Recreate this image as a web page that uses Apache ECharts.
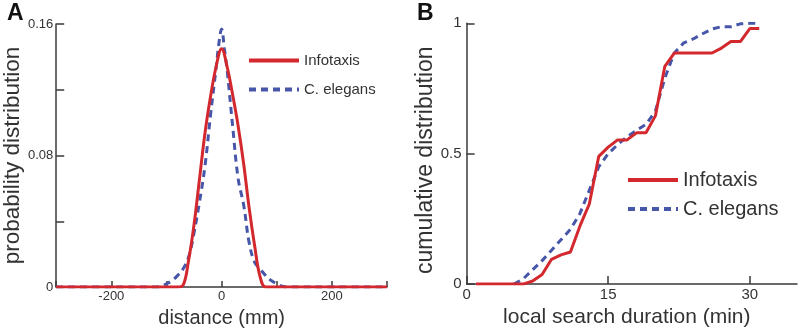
<!DOCTYPE html>
<html>
<head>
<meta charset="utf-8">
<script src="https://cdn.jsdelivr.net/npm/echarts@6/dist/echarts.min.js"></script>
<style>
html,body{margin:0;padding:0;background:#fff;}
#c{width:798px;height:333px;}
</style>
</head>
<body>
<div id="c"></div>
<script>
// Panel A: probability distribution vs distance (mm)
var distInfotaxis = [-300,-200,-100,-80,-70,-60,-50,-40,-30,-20,-10,0,10,20,30,40,50,60,70,80,100,200,300];
var probInfotaxis = [0,0,0,0,0.001,0.016,0.038,0.066,0.094,0.116,0.134,0.145,0.134,0.117,0.098,0.075,0.048,0.025,0.006,0,0,0,0];
var distElegans = [-300,-200,-120,-110,-100,-90,-80,-70,-60,-50,-40,-30,-20,-10,-5,0,5,10,20,30,40,50,60,70,80,90,100,110,120,200,300];
var probElegans = [0,0,0,0.0005,0.002,0.004,0.007,0.011,0.018,0.033,0.052,0.074,0.105,0.133,0.148,0.157,0.145,0.132,0.098,0.066,0.05,0.027,0.015,0.011,0.007,0.004,0.002,0.0005,0,0,0];
var distTickLabels = [-200, 0, 200];
var probTickLabels = [0, 0.08, 0.16];

// Panel B: cumulative distribution vs local search duration (min)
var durInfotaxis = [1,2,3,4,5,6,7,8,9,10,11,12,13,14,15,16,17,18,19,20,21,22,23,24,25,26,27,28,29,30,31];
var cumInfotaxis = [0,0,0,0,0,0,0.012,0.037,0.095,0.112,0.123,0.222,0.307,0.49,0.525,0.553,0.553,0.58,0.58,0.645,0.835,0.886,0.886,0.886,0.886,0.886,0.905,0.93,0.93,0.98,0.98];
var durElegans = [5,6,7,8,9,10,11,12,13,14,15,16,17,18,19,20,21,22,23,24,25,26,27,28,29,30,31];
var cumElegans = [0,0.02,0.055,0.09,0.13,0.17,0.21,0.27,0.36,0.45,0.5,0.535,0.565,0.59,0.612,0.663,0.79,0.886,0.925,0.94,0.96,0.978,0.987,0.987,0.998,1.0,1.0];
var durTickLabels = [0, 15, 30];
var cumTickLabels = [0, 0.5, 1];

var seriesNames = ['Infotaxis', 'C. elegans'];
var RED = '#d3282e', BLUE = '#4756a8', AX = '#3a3a3a', TXT = '#333';
var FONT = 'Liberation Sans, Arial, Helvetica, sans-serif';

function pairs(xs, ys){ return xs.map(function(x,i){ return [x, ys[i]]; }); }
function onlyLabels(list){
  return function(v){
    for (var i=0;i<list.length;i++){ if (Math.abs(v-list[i])<1e-9) return String(list[i]); }
    return '';
  };
}

var chart = echarts.init(document.getElementById('c'), null, {renderer:'canvas'});
var axisLine = {show:true, onZero:false, lineStyle:{color:AX, width:1.5}};
function legendItem(name, left, top, fs, ih){
  return {data:[name], left:left, top:top, itemWidth:50, itemHeight:ih, itemGap:10,
    itemStyle:{opacity:0}, lineStyle:{width:4},
    textStyle:{fontSize:fs, color:TXT, fontFamily:FONT}, selectedMode:false};
}
var option = {
  animation:false,
  backgroundColor:'#fff',
  textStyle:{fontFamily:FONT},
  title:[
    {text:'A', left:2, top:-3, textStyle:{fontSize:23, fontWeight:'bold', color:'#111', fontFamily:FONT}},
    {text:'B', left:412, top:-3, textStyle:{fontSize:23, fontWeight:'bold', color:'#111', fontFamily:FONT}}
  ],
  grid:[
    {left:50, top:24, width:337, height:267},
    {left:466.6, top:23.3, width:330.4, height:262.4}
  ],
  legend:[
    legendItem(seriesNames[0], 242, 48, 15, 16),
    legendItem(seriesNames[1], 242, 77, 15, 16),
    legendItem(seriesNames[0], 621, 165, 20, 20),
    legendItem(seriesNames[1], 621, 194, 20, 20)
  ],
  xAxis:[
    {type:'value', gridIndex:0, min:-300, max:300, interval:100,
     axisLine:axisLine, axisTick:{show:true, inside:true, length:6, lineStyle:{color:AX, width:1.5}},
     axisLabel:{formatter:onlyLabels(distTickLabels), fontSize:13, color:TXT, margin:3, showMinLabel:true, showMaxLabel:true},
     splitLine:{show:false},
     name:'distance (mm)', nameLocation:'middle', nameGap:19,
     nameTextStyle:{fontSize:20, color:TXT, fontFamily:FONT}},
    {type:'value', gridIndex:1, min:0, max:35, interval:15,
     axisLine:axisLine, axisTick:{show:true, inside:true, length:8, lineStyle:{color:AX, width:1.5}},
     axisLabel:{formatter:onlyLabels(durTickLabels), fontSize:15, color:TXT, margin:3, showMaxLabel:false},
     splitLine:{show:false},
     name:'local search duration (min)', nameLocation:'middle', nameGap:20,
     nameTextStyle:{fontSize:21, color:TXT, fontFamily:FONT, padding:[0,10,0,0]}}
  ],
  yAxis:[
    {type:'value', gridIndex:0, min:0, max:0.16, interval:0.04,
     axisLine:axisLine, axisTick:{show:true, inside:true, length:8, lineStyle:{color:AX, width:1.5}},
     axisLabel:{formatter:onlyLabels(probTickLabels), fontSize:13, color:TXT, margin:3},
     splitLine:{show:false},
     name:'probability distribution', nameLocation:'middle', nameGap:21,
     nameTextStyle:{fontSize:22.5, color:TXT, fontFamily:FONT}},
    {type:'value', gridIndex:1, min:0, max:1, interval:0.5,
     axisLine:axisLine, axisTick:{show:true, inside:true, length:8, lineStyle:{color:AX, width:1.5}},
     axisLabel:{formatter:onlyLabels(cumTickLabels), fontSize:15, color:TXT, margin:5},
     splitLine:{show:false},
     name:'cumulative distribution', nameLocation:'middle', nameGap:22,
     nameTextStyle:{fontSize:23, color:TXT, fontFamily:FONT, padding:[0,13,0,0]}}
  ],
  series:[
    {name:seriesNames[1], type:'line', xAxisIndex:0, yAxisIndex:0, data:pairs(distElegans, probElegans),
     showSymbol:false, symbol:'none', smooth:0.4,
     lineStyle:{color:BLUE, width:3, type:[7,5]}, itemStyle:{color:BLUE}, z:2},
    {name:seriesNames[0], type:'line', xAxisIndex:0, yAxisIndex:0, data:pairs(distInfotaxis, probInfotaxis),
     showSymbol:false, symbol:'none', smooth:0.4,
     lineStyle:{color:RED, width:3}, itemStyle:{color:RED}, z:3},
    {name:seriesNames[1], type:'line', xAxisIndex:1, yAxisIndex:1, data:pairs(durElegans, cumElegans),
     showSymbol:false, symbol:'none',
     lineStyle:{color:BLUE, width:3, type:[7,5]}, itemStyle:{color:BLUE}, z:2},
    {name:seriesNames[0], type:'line', xAxisIndex:1, yAxisIndex:1, data:pairs(durInfotaxis, cumInfotaxis),
     showSymbol:false, symbol:'none',
     lineStyle:{color:RED, width:3}, itemStyle:{color:RED}, z:3}
  ]
};
chart.setOption(option);
</script>
</body>
</html>
